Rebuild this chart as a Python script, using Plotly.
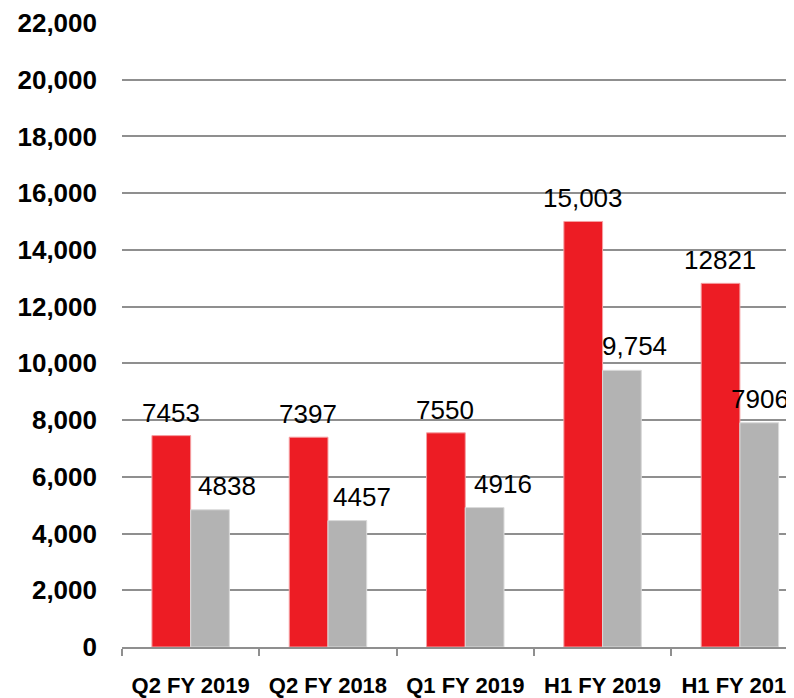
import plotly.graph_objects as go

# dados do gráfico
periodos = ["Q2 FY 2019", "Q2 FY 2018", "Q1 FY 2019", "H1 FY 2019", "H1 FY 2018"]
serie_vermelha = [7453, 7397, 7550, 15003, 12821]
serie_cinza = [4838, 4457, 4916, 9754, 7906]
rotulos_vermelha = ["7453", "7397", "7550", "15,003", "12821"]
rotulos_cinza = ["4838", "4457", "4916", "9,754", "7906"]

# deslocamento extra (px) dos rótulos cinza; o último fica centrado para não cortar
ajuste_cinza = [16, 14, 18, 12, 0]

FONTE = "Liberation Sans, Arial, sans-serif"
MEIA_BARRA = 20

fig = go.Figure()

fig.add_trace(go.Bar(
    x=periodos,
    y=serie_vermelha,
    marker=dict(color="#ED1C24", line=dict(color="#F5A0A3", width=1)),
    showlegend=False
))

fig.add_trace(go.Bar(
    x=periodos,
    y=serie_cinza,
    marker=dict(color="#B3B3B3", line=dict(color="#DADADA", width=1)),
    showlegend=False
))

# rótulos de dados como anotações
for periodo, valor, rotulo in zip(periodos, serie_vermelha, rotulos_vermelha):
    fig.add_annotation(x=periodo, y=valor, text=rotulo, showarrow=False,
                       yanchor="bottom", xshift=-MEIA_BARRA, yshift=6,
                       font=dict(size=26, color="black", family=FONTE))

for periodo, valor, rotulo, aj in zip(periodos, serie_cinza, rotulos_cinza, ajuste_cinza):
    fig.add_annotation(x=periodo, y=valor, text=rotulo, showarrow=False,
                       yanchor="bottom", xshift=MEIA_BARRA + aj, yshift=7,
                       font=dict(size=26, color="black", family=FONTE))

# a página tem margem de 8px no body, por isso tamanho e margens são compensados
fig.update_layout(
    width=786,
    height=690,
    barmode="group",
    bargap=0.436,
    bargroupgap=0,
    plot_bgcolor="white",
    paper_bgcolor="white",
    margin=dict(l=114, r=0, t=15, b=51),
    font=dict(family=FONTE, color="black")
)

fig.update_xaxes(
    range=[-0.5, 4.394],
    showline=True,
    linecolor="#8F8F8F",
    linewidth=2,
    ticks="outside",
    tickson="boundaries",
    ticklen=7,
    tickwidth=2,
    tickcolor="#8F8F8F",
    ticklabelstandoff=18,
    tickfont=dict(size=22, color="black", family=FONTE, weight="bold"),
    showgrid=False,
    automargin=False
)

fig.update_yaxes(
    range=[0, 22000],
    dtick=2000,
    tickformat=",d",
    showgrid=True,
    gridcolor="#8F8F8F",
    gridwidth=1.7,
    zeroline=False,
    ticks="",
    ticklabelstandoff=24,
    tickfont=dict(size=26, color="black", family=FONTE, weight="bold"),
    automargin=False
)

fig.write_html("out.html")
